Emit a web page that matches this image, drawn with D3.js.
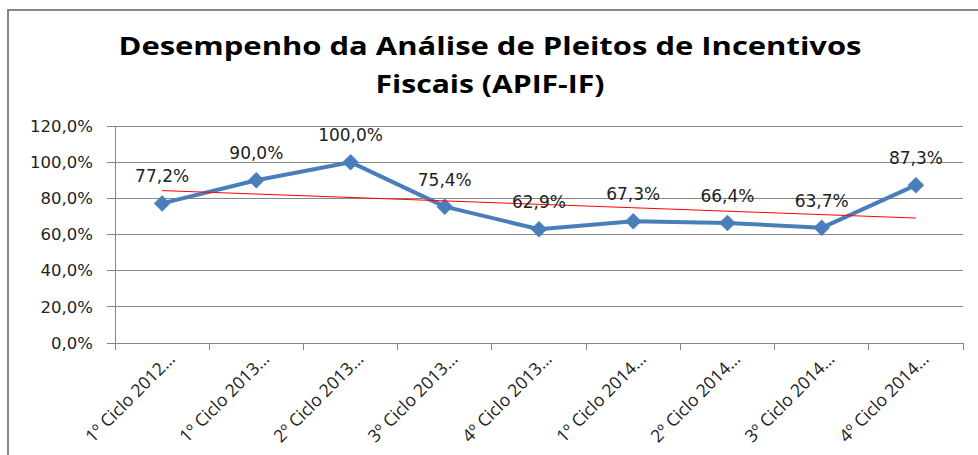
<!DOCTYPE html>
<html><head><meta charset="utf-8">
<script src="https://cdn.jsdelivr.net/npm/d3@7"></script>
<style>body{margin:0;background:#fff}svg{display:block}</style>
</head><body>
<svg id="c" width="978" height="455"></svg>
<script>
const categories = ["1º Ciclo 2012…","1º  Ciclo 2013…","2º Ciclo 2013…","3º Ciclo 2013…","4º Ciclo 2013…","1º Ciclo 2014…","2º Ciclo 2014…","3º Ciclo 2014…","4º Ciclo 2014…"];
const values = [77.2, 90.0, 100.0, 75.4, 62.9, 67.3, 66.4, 63.7, 87.3];
const yTicks = [0, 20, 40, 60, 80, 100, 120];
const titleLines = ["Desempenho da Análise de Pleitos de Incentivos", "Fiscais (APIF-IF)"];

const svg = d3.select("#c");
// outer border (left + top)
svg.append("path").attr("d","M8,455 L8,10 L978,10").attr("fill","none").attr("stroke","#878787").attr("stroke-width",2);

// title
const tl = svg.append("g");
const tW = [743, 229];
titleLines.forEach((t,i)=>{
  tl.append("text").attr("x",490).attr("y",[55,93][i]).attr("text-anchor","middle")
    .attr("font-family","'Open Sans',sans-serif").attr("font-weight","bold").attr("font-size",25)
    .attr("fill","#000").attr("textLength",tW[i]).attr("lengthAdjust","spacingAndGlyphs").text(t);
});

const x = d3.scaleBand().domain(categories).range([115,963]);
const y = d3.scaleLinear().domain([0,120]).range([343,126]);
const fmt = v => d3.format(".1f")(v).replace(".",",") + "%";

// gridlines
svg.append("g").selectAll("line").data(yTicks).join("line")
  .attr("x1",107).attr("x2",963).attr("y1",d=>y(d)).attr("y2",d=>y(d))
  .attr("stroke","#878787").attr("stroke-width",1).attr("shape-rendering","crispEdges");

// y axis
const ya = svg.append("g").attr("transform","translate(115,0)")
  .call(d3.axisLeft(y).tickValues(yTicks).tickSize(0).tickPadding(22).tickFormat(fmt));
ya.select(".domain").attr("stroke","#878787").attr("shape-rendering","crispEdges");
ya.selectAll("text").attr("font-family","'DejaVu Sans',Verdana,sans-serif").attr("font-size",16.5).attr("fill","#222");

// x axis
const xa = svg.append("g").attr("transform","translate(0,343)")
  .call(d3.axisBottom(x).tickSizeOuter(0).tickSize(0).tickFormat(""));
xa.select(".domain").attr("stroke","#878787").attr("shape-rendering","crispEdges");
const tickPos = categories.map(c=>x(c)).concat([x.range()[1]]);
svg.append("g").selectAll("line").data(tickPos).join("line")
  .attr("x1",d=>d).attr("x2",d=>d).attr("y1",343).attr("y2",350)
  .attr("stroke","#878787").attr("shape-rendering","crispEdges");
svg.append("g").selectAll("text").data(categories).join("text")
  .attr("transform",d=>`translate(${x(d)+x.bandwidth()/2+14},${360}) rotate(-45)`)
  .attr("text-anchor","end")
  .attr("font-family","'Open Sans',sans-serif").attr("font-size",17.5).attr("fill","#222")
  .text(d=>d);

const cx = d => x(d)+x.bandwidth()/2;

// series line
const pts = categories.map((c,i)=>[cx(c), y(values[i])]);
svg.append("path").attr("d", d3.line()(pts)).attr("fill","none")
  .attr("stroke","#4A7EBB").attr("stroke-width",4).attr("stroke-linejoin","round");

// markers
svg.append("g").selectAll("path").data(pts).join("path")
  .attr("d", d=>`M${d[0]},${d[1]-8} L${d[0]+8},${d[1]} L${d[0]},${d[1]+8} L${d[0]-8},${d[1]} Z`)
  .attr("fill","#4A7EBB").attr("stroke","#4A7EBB").attr("stroke-width",0.5);

// linear trendline (least squares of values)
const n = values.length, xs = d3.range(n);
const mx = d3.mean(xs), my = d3.mean(values);
const slope = d3.sum(xs.map((xi,i)=>(xi-mx)*(values[i]-my))) / d3.sum(xs.map(xi=>(xi-mx)**2));
const icpt = my - slope*mx;
svg.append("line")
  .attr("x1",cx(categories[0])).attr("y1",y(icpt))
  .attr("x2",cx(categories[n-1])).attr("y2",y(icpt+slope*(n-1)))
  .attr("stroke","#FF0000").attr("stroke-width",1);

// data labels
svg.append("g").selectAll("text").data(values).join("text")
  .attr("x",(d,i)=>cx(categories[i])).attr("y",d=>y(d)-21)
  .attr("text-anchor","middle")
  .attr("font-family","'DejaVu Sans',Verdana,sans-serif").attr("font-size",17).attr("fill","#222")
  .text(fmt);
</script>
</body></html>
